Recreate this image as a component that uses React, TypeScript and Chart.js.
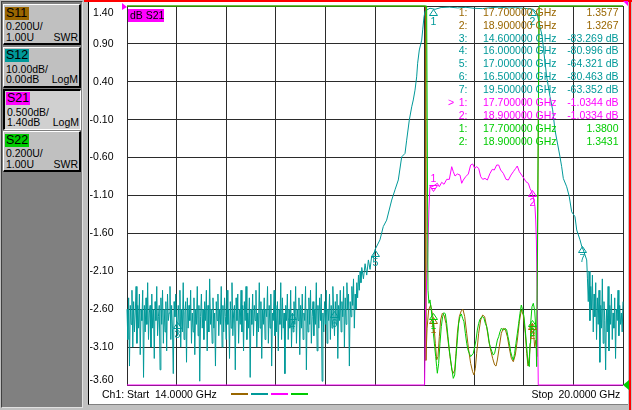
import React, { useEffect, useRef } from "react";
import { Chart, registerables } from "chart.js";

Chart.register(...registerables);

// ---------------- data ----------------
const START_GHZ = 14;
const STOP_GHZ = 20;
const xGridGHz = [14, 14.6, 15.2, 15.8, 16.4, 17, 17.6, 18.2, 18.8, 19.4, 20];
const s21TickLabels = ["1.40", "0.90", "0.40", "-0.10", "-0.60", "-1.10", "-1.60", "-2.10", "-2.60", "-3.10", "-3.60"];

const traceNames = ["S11", "S12", "S21", "S22"];
const traceColors = ["#996600", "#009999", "#ff00ff", "#00cc00"];
const tracePerDiv = ["0.200U/", "10.00dB/", "0.500dB/", "0.200U/"];
const traceRefText = ["1.00U", "0.00dB", "1.40dB", "1.00U"];
const traceFormats = ["SWR", "LogM", "LogM", "SWR"];
const ACTIVE_TRACE = 2;

// scale ranges of the hidden axes (reference at bottom for SWR, at top for S12)
const swrScale = [1.0, 3.0];
const s12ScaleDb = [-100, 0];

// S11 (SWR) – off-scale values are pinned to the top (3.0)
const s11Trace: [number, number][] = [
  [14.0, 3.0], [17.61, 3.0], [17.615, 1.13], [17.63, 1.3], [17.649, 1.396], [17.673, 1.422], [17.697, 1.369],
  [17.714, 1.308], [17.73, 1.22], [17.746, 1.132], [17.762, 1.15], [17.778, 1.255], [17.794, 1.343], [17.814, 1.378],
  [17.835, 1.369], [17.859, 1.325], [17.883, 1.237], [17.907, 1.15], [17.931, 1.079], [17.947, 1.062], [17.964, 1.079],
  [17.98, 1.167], [17.996, 1.273], [18.02, 1.361], [18.044, 1.392], [18.064, 1.399], [18.085, 1.361], [18.109, 1.273],
  [18.133, 1.185], [18.157, 1.114], [18.181, 1.07], [18.197, 1.053], [18.214, 1.088], [18.23, 1.167], [18.254, 1.273],
  [18.278, 1.343], [18.302, 1.369], [18.326, 1.361], [18.351, 1.308], [18.375, 1.237], [18.399, 1.185], [18.423, 1.141],
  [18.447, 1.106], [18.464, 1.1], [18.48, 1.132], [18.504, 1.202], [18.528, 1.273], [18.552, 1.299], [18.576, 1.294],
  [18.601, 1.255], [18.625, 1.194], [18.649, 1.141], [18.673, 1.123], [18.697, 1.158], [18.722, 1.237], [18.746, 1.334],
  [18.77, 1.396], [18.794, 1.369], [18.818, 1.273], [18.835, 1.167], [18.851, 1.1], [18.867, 1.15], [18.883, 1.237],
  [18.899, 1.325], [18.915, 1.29], [18.931, 1.202], [18.947, 1.237], [18.958, 1.15], [18.985, 3.0], [20.0, 3.0],
];

// S22 (SWR)
const s22Trace: [number, number][] = [
  [14.0, 3.0], [17.625, 3.0], [17.641, 1.5], [17.653, 1.431], [17.665, 1.449], [17.681, 1.396], [17.693, 1.343],
  [17.706, 1.273], [17.722, 1.202], [17.734, 1.15], [17.746, 1.097], [17.754, 1.062], [17.77, 1.114], [17.786, 1.22],
  [17.802, 1.308], [17.818, 1.361], [17.835, 1.382], [17.851, 1.375], [17.867, 1.325], [17.883, 1.255], [17.899, 1.185],
  [17.915, 1.132], [17.931, 1.079], [17.947, 1.035], [17.964, 1.053], [17.98, 1.15], [17.996, 1.237], [18.012, 1.325],
  [18.028, 1.361], [18.044, 1.375], [18.06, 1.352], [18.076, 1.334], [18.093, 1.273], [18.109, 1.22], [18.125, 1.185],
  [18.141, 1.167], [18.157, 1.15], [18.173, 1.158], [18.189, 1.167], [18.206, 1.202], [18.222, 1.237], [18.238, 1.29],
  [18.254, 1.325], [18.27, 1.347], [18.286, 1.357], [18.302, 1.361], [18.318, 1.352], [18.335, 1.325], [18.351, 1.308],
  [18.367, 1.273], [18.383, 1.22], [18.399, 1.194], [18.415, 1.176], [18.431, 1.158], [18.447, 1.167], [18.464, 1.202],
  [18.48, 1.237], [18.496, 1.255], [18.512, 1.281], [18.528, 1.299], [18.544, 1.294], [18.56, 1.29], [18.576, 1.299],
  [18.593, 1.29], [18.609, 1.255], [18.625, 1.22], [18.641, 1.176], [18.657, 1.15], [18.673, 1.132], [18.689, 1.167],
  [18.705, 1.22], [18.722, 1.273], [18.738, 1.325], [18.754, 1.378], [18.77, 1.422], [18.786, 1.396], [18.802, 1.361],
  [18.818, 1.29], [18.835, 1.202], [18.851, 1.114], [18.867, 1.097], [18.875, 1.22], [18.883, 1.325], [18.899, 1.413],
  [18.915, 1.431], [18.931, 1.396], [18.947, 1.29], [18.955, 1.097], [18.985, 3.0], [20.0, 3.0],
];

// S21 (dB) – off-scale stopband pinned to the bottom (-3.60)
const s21Trace: [number, number][] = [
  [14.0, -3.6], [17.6, -3.6], [17.612, -2.6], [17.636, -1.95], [17.652, -1.29], [17.664, -0.99], [17.689, -0.984],
  [17.726, -0.961], [17.754, -0.939], [17.778, -0.984], [17.807, -0.926], [17.835, -0.952], [17.867, -0.887],
  [17.899, -0.887], [17.928, -0.72], [17.947, -0.786], [17.968, -0.843], [17.996, -0.816], [18.028, -0.83],
  [18.049, -0.939], [18.068, -0.896], [18.097, -0.852], [18.129, -0.816], [18.157, -0.698], [18.182, -0.684],
  [18.206, -0.742], [18.23, -0.72], [18.254, -0.742], [18.279, -0.852], [18.303, -0.887], [18.331, -0.874],
  [18.359, -0.896], [18.391, -0.808], [18.419, -0.755], [18.443, -0.764], [18.472, -0.698], [18.496, -0.698],
  [18.52, -0.764], [18.552, -0.808], [18.585, -0.887], [18.613, -0.896], [18.645, -0.83], [18.673, -0.786],
  [18.702, -0.742], [18.721, -0.711], [18.746, -0.786], [18.774, -0.83], [18.802, -0.874], [18.826, -0.918],
  [18.855, -0.939], [18.875, -1.006], [18.895, -1.05], [18.907, -1.094], [18.923, -1.159], [18.935, -1.247],
  [18.944, -1.423], [18.952, -1.687], [18.965, -2.6], [18.975, -3.6], [20.0, -3.6],
];

// S12 (dB): sweep points of the noise floor, every 0.01 GHz
const S12_NOISE_STEP_GHZ = 0.01;
const s12NoiseLoStartGHz = 14.0;
const s12NoiseLoDb = [
  -80, -88, -77, -95, -79, -84, -75, -90, -78, -86, -81, -74, -89, -79, -85,
  -76, -92, -80, -83, -75, -98, -79, -86, -77, -84, -73, -88, -81, -79, -90,
  -76, -85, -80, -93, -78, -83, -74, -87, -82, -79, -96, -77, -84, -75, -89,
  -80, -86, -78, -91, -76, -83, -81, -74, -88, -79, -85, -97, -78, -82, -76,
  -83.3, -87, -79, -84, -75, -90, -80, -86, -73, -88, -81, -78, -94, -77, -85,
  -79, -83, -75, -89, -81, -86, -77, -92, -80, -84, -74, -87, -79, -99, -82,
  -76, -85, -80, -88, -78, -83, -75, -91, -79, -86, -72, -84, -80, -89, -77,
  -85, -81, -95, -78, -83, -76, -87, -80, -84, -74, -90, -79, -86, -77, -82,
  -88, -75, -84, -80, -93, -78, -85, -73, -87, -81, -79, -96, -77, -83, -76,
  -89, -80, -84, -75, -86, -79, -91, -78, -83, -74, -88, -81, -85, -77, -98,
  -80, -84, -76, -87, -79, -83, -75, -90, -81, -86, -73, -85, -78, -93, -80,
  -84, -77, -88, -80, -82, -74, -89, -79, -85, -76, -95, -81, -83, -75, -87,
  -79, -86, -78, -91, -80, -84, -73, -88, -77, -85, -81, -97, -79, -83, -76,
  -88, -80, -85, -75, -90, -81, -86, -78, -84, -74, -89, -80, -83, -77, -92,
  -79, -85, -76, -88, -81, -83, -74, -96, -80, -86, -77, -84, -75, -89, -82,
  -78, -87, -80, -84, -73, -91, -79, -85, -77, -83, -76, -99, -81, -86, -78,
  -84, -75, -89, -80, -83, -76, -88, -79, -85, -74, -80.5, -87, -78, -84, -76,
  -93, -79, -83, -75, -86, -78, -82, -74, -90, -77, -84, -73, -80, -76, -95,
  -78, -82, -74, -79, -72, -85, -76, -80, -73, -77, -71, -75, -70, -73, -69,
];
// S12 skirts and passband
const s12Band: [number, number][] = [
  [16.86, -72], [16.88, -68], [16.9, -71], [16.92, -67], [16.94, -69.5], [16.96, -66], [16.98, -66.5],
  [17.0, -64.3], [17.06, -61.7], [17.1, -58.2], [17.141, -56.5], [17.202, -51.2], [17.242, -48.5], [17.282, -45.9],
  [17.323, -39.8], [17.363, -38.9], [17.383, -35.4], [17.415, -30.1], [17.444, -26.6], [17.463, -24.8],
  [17.484, -22.2], [17.504, -18.7], [17.516, -15.1], [17.536, -11.6], [17.565, -9.0], [17.577, -6.3],
  [17.593, -2.8], [17.605, -1.5], [17.625, -1.06], [17.665, -0.6], [17.726, -0.87], [17.8, -0.4], [17.9, -0.3],
  [18.0, -0.5], [18.1, -0.35], [18.2, -0.6], [18.3, -0.7], [18.4, -0.45], [18.5, -0.3], [18.6, -0.5], [18.7, -0.45],
  [18.8, -0.6], [18.916, -0.87], [18.96, -1.85], [18.996, -5.5], [19.02, -7.7], [19.044, -12.4], [19.077, -18.7],
  [19.117, -23.9], [19.149, -27.4], [19.177, -32.7], [19.238, -39.8], [19.258, -42.4], [19.278, -45.5],
  [19.319, -47.7], [19.35, -50.3], [19.379, -54.3], [19.419, -55.6], [19.44, -59.1], [19.48, -61.7],
  [19.5, -63.35], [19.52, -64.4], [19.561, -67.0],
];
const s12NoiseHiStartGHz = 19.57;
const s12NoiseHiDb = [
  -72, -78, -70, -83, -74, -80, -71, -86, -76, -82,
  -73, -88, -77, -84, -75, -94, -79, -85, -72, -89,
  -78, -83, -96, -80, -86, -74, -91, -79, -84, -76,
  -88, -81, -85, -77, -93, -80, -83, -75, -87, -79,
  -84, -81, -86, -78,
];

// marker readouts
const s11MarkerGHz = [17.7, 18.9];
const s11MarkerSwr = [1.3577, 1.3267];
const s12MarkerNo = [3, 4, 5, 6, 7];
const s12MarkerGHz = [14.6, 16.0, 17.0, 16.5, 19.5];
const s12MarkerDb = [-83.269, -80.996, -64.321, -80.463, -63.352];
const s12PassMarkerGHz = [17.7, 18.9];
const s12PassMarkerDb = [-0.8, -0.87];
const s21MarkerGHz = [17.7, 18.9];
const s21MarkerDb = [-1.0344, -1.0334];
const s22MarkerGHz = [17.7, 18.9];
const s22MarkerSwr = [1.38, 1.3431];

// ---------------- drawing ----------------
const FONT = '"Liberation Sans", Arial, Helvetica, sans-serif';
const GRID = "#2b2b2b";

const pairs = (p: [number, number][]) => p.map(([x, y]) => ({ x, y }));

const vnaOverlay = {
  id: "vnaOverlay",
  afterDatasetsDraw(chart: any) {
    const { ctx, scales, chartArea } = chart;
    const xs = scales.x;
    ctx.save();
    ctx.lineWidth = 1;
    ctx.font = `10.5px ${FONT}`;
    ctx.textAlign = "center";
    ctx.textBaseline = "middle";
    const sets = [
      { ghz: s11MarkerGHz, val: s11MarkerSwr, nums: [1, 2], axis: "ySwr", color: traceColors[0], active: -1 },
      { ghz: s12PassMarkerGHz, val: s12PassMarkerDb, nums: [1, 2], axis: "yS12", color: traceColors[1], active: -1 },
      { ghz: s12MarkerGHz, val: s12MarkerDb, nums: s12MarkerNo, axis: "yS12", color: traceColors[1], active: -1 },
      { ghz: s21MarkerGHz, val: s21MarkerDb, nums: [1, 2], axis: "y", color: traceColors[2], active: 0 },
      { ghz: s22MarkerGHz, val: s22MarkerSwr, nums: [1, 2], axis: "ySwr", color: traceColors[3], active: -1 },
    ];
    for (const s of sets) {
      s.ghz.forEach((f, k) => {
        const x = Math.round(xs.getPixelForValue(f)) + 0.5;
        const y = Math.round(scales[s.axis].getPixelForValue(s.val[k])) + 0.5;
        ctx.strokeStyle = s.color;
        ctx.fillStyle = s.color;
        ctx.beginPath();
        if (s.active === k) {
          ctx.moveTo(x, y);
          ctx.lineTo(x - 4, y - 6);
          ctx.lineTo(x + 4, y - 6);
          ctx.closePath();
          ctx.moveTo(x - 2, y - 3);
          ctx.lineTo(x + 2, y - 3);
          ctx.stroke();
          ctx.fillText(String(s.nums[k]), x, y - 12);
        } else {
          ctx.moveTo(x, y);
          ctx.lineTo(x - 4, y + 6);
          ctx.lineTo(x + 4, y + 6);
          ctx.closePath();
          ctx.stroke();
          ctx.fillText(String(s.nums[k]), x, y + 13);
        }
      });
    }

    // reference-position arrows
    ctx.fillStyle = traceColors[2];
    ctx.beginPath();
    ctx.moveTo(chartArea.left - 5, chartArea.top - 3);
    ctx.lineTo(chartArea.left, chartArea.top + 1);
    ctx.lineTo(chartArea.left - 5, chartArea.top + 4);
    ctx.closePath();
    ctx.fill();
    ctx.beginPath();
    ctx.moveTo(chartArea.right, chartArea.top - 5);
    ctx.lineTo(chartArea.right + 5, chartArea.top - 5);
    ctx.lineTo(chartArea.right + 5, chartArea.top);
    ctx.closePath();
    ctx.fill();
    ctx.fillStyle = traceColors[3];
    ctx.beginPath();
    ctx.moveTo(chartArea.right, chartArea.bottom);
    ctx.lineTo(chartArea.right + 6, chartArea.bottom - 5);
    ctx.lineTo(chartArea.right + 6, chartArea.bottom + 5);
    ctx.closePath();
    ctx.fill();
    ctx.restore();
  },
  afterDraw(chart: any) {
    const { ctx, scales, chartArea } = chart;
    ctx.save();
    ctx.font = `10.5px ${FONT}`;
    ctx.fillStyle = "#000";
    ctx.textBaseline = "middle";
    ctx.textAlign = "right";
    // S21 y labels
    s21TickLabels.forEach((t) => {
      let y = scales.y.getPixelForValue(parseFloat(t));
      y = Math.min(Math.max(y, chartArea.top + 7.5), chartArea.bottom - 5);
      ctx.fillText(t, chartArea.left - 13.5, y);
    });

    // active trace tag
    ctx.fillStyle = traceColors[ACTIVE_TRACE];
    ctx.fillRect(chartArea.left + 1, chartArea.top + 3, 36, 13);
    ctx.fillStyle = "#000";
    ctx.textAlign = "left";
    ctx.fillText("dB " + traceNames[ACTIVE_TRACE], chartArea.left + 3, chartArea.top + 10);

    // marker table
    type Row = { pre: string; no: number; f: number; txt: string; color: string };
    const rows: Row[] = [];
    s11MarkerGHz.forEach((f, k) => rows.push({ pre: "", no: k + 1, f, txt: s11MarkerSwr[k].toFixed(4), color: traceColors[0] }));
    s12MarkerGHz.forEach((f, k) => rows.push({ pre: "", no: s12MarkerNo[k], f, txt: s12MarkerDb[k].toFixed(3) + " dB", color: traceColors[1] }));
    s21MarkerGHz.forEach((f, k) => rows.push({ pre: k === 0 ? ">" : "", no: k + 1, f, txt: s21MarkerDb[k].toFixed(4) + " dB", color: traceColors[2] }));
    s22MarkerGHz.forEach((f, k) => rows.push({ pre: "", no: k + 1, f, txt: s22MarkerSwr[k].toFixed(4), color: traceColors[3] }));
    rows.forEach((r, i) => {
      const y = 12.7 + 12.96 * i;
      ctx.fillStyle = r.color;
      ctx.textAlign = "left";
      if (r.pre) ctx.fillText(r.pre, 448, y);
      ctx.fillText(r.f.toFixed(6) + " GHz", 483, y);
      ctx.textAlign = "right";
      ctx.fillText(r.no + ":", 467.5, y);
      ctx.fillText(r.txt, 618.5, y);
    });

    // footer
    ctx.fillStyle = "#000";
    ctx.textAlign = "left";
    ctx.fillText("Ch1: Start", 102, 395);
    ctx.fillText(START_GHZ.toFixed(4) + " GHz", 155, 395);
    ctx.fillText("Stop", 531.5, 395);
    ctx.fillText(STOP_GHZ.toFixed(4) + " GHz", 558.5, 395);
    traceColors.forEach((c, i) => {
      ctx.fillStyle = c;
      ctx.fillRect(231 + i * 20, 393, 17, 2);
    });
    ctx.restore();
  },
};

function TraceButton({ i }: { i: number }) {
  const tops = [4, 46.5, 88.5, 131];
  const sel = i === ACTIVE_TRACE;
  return (
    <div
      style={{
        position: "absolute",
        left: 3,
        top: tops[i],
        width: 78,
        height: 41,
        boxSizing: "border-box",
        background: sel ? "#d0d0d0" : "#c0c0c0",
        borderStyle: "solid",
        borderWidth: sel ? "2px 1px 1px 2px" : "1px 2px 2px 1px",
        borderColor: sel ? "#000 #fff #fff #000" : "#fff #000 #000 #fff",
        fontSize: 10.5,
        color: "#000",
      }}
    >
      <div
        style={{
          position: "absolute",
          left: 1,
          top: 1.5,
          width: 24,
          height: 13,
          background: traceColors[i],
          fontSize: 12.5,
          lineHeight: "13px",
          paddingLeft: 1,
          boxSizing: "border-box",
        }}
      >
        {traceNames[i]}
      </div>
      <div style={{ position: "absolute", left: 2, top: 15, lineHeight: "12px" }}>{tracePerDiv[i]}</div>
      <div style={{ position: "absolute", left: 2, top: 25.5, lineHeight: "12px" }}>{traceRefText[i]}</div>
      <div style={{ position: "absolute", right: 1, top: 25.5, lineHeight: "12px" }}>{traceFormats[i]}</div>
    </div>
  );
}

export default function App() {
  const ref = useRef<HTMLCanvasElement>(null);

  useEffect(() => {
    if (!ref.current) return;
    const s12Data = [
      ...s12NoiseLoDb.map((v, i) => ({ x: s12NoiseLoStartGHz + i * S12_NOISE_STEP_GHZ, y: v })),
      ...pairs(s12Band),
      ...s12NoiseHiDb.map((v, i) => ({ x: s12NoiseHiStartGHz + i * S12_NOISE_STEP_GHZ, y: v })),
    ];
    const yTicks = s21TickLabels.map((t) => parseFloat(t));
    const chart = new Chart(ref.current, {
      type: "line",
      data: {
        datasets: [
          { label: "S11", data: pairs(s11Trace), yAxisID: "ySwr", borderColor: traceColors[0], order: 4 },
          { label: "S12", data: s12Data, yAxisID: "yS12", borderColor: traceColors[1], order: 3 },
          { label: "S21", data: pairs(s21Trace), yAxisID: "y", borderColor: traceColors[2], order: 2 },
          { label: "S22", data: pairs(s22Trace), yAxisID: "ySwr", borderColor: traceColors[3], order: 1 },
        ].map((d) => ({ ...d, borderWidth: 1, pointRadius: 0, tension: 0, fill: false, clip: 2 })) as any,
      },
      options: {
        animation: false,
        responsive: false,
        maintainAspectRatio: false,
        events: [],
        layout: { padding: { left: 127, top: 6, right: 9, bottom: 25 } },
        plugins: { legend: { display: false }, tooltip: { enabled: false } },
        scales: {
          x: {
            type: "linear",
            min: START_GHZ,
            max: STOP_GHZ,
            afterBuildTicks: (s: any) => {
              s.ticks = xGridGHz.map((value) => ({ value }));
            },
            ticks: { display: false },
            grid: { color: GRID, lineWidth: 1, drawTicks: false },
            border: { display: false },
          },
          y: {
            type: "linear",
            min: yTicks[yTicks.length - 1],
            max: yTicks[0],
            afterBuildTicks: (s: any) => {
              s.ticks = yTicks.map((value) => ({ value }));
            },
            ticks: { display: false },
            grid: { color: GRID, lineWidth: 1, drawTicks: false },
            border: { display: false },
          },
          ySwr: { type: "linear", display: false, min: swrScale[0], max: swrScale[1] },
          yS12: { type: "linear", display: false, min: s12ScaleDb[0], max: s12ScaleDb[1] },
        },
      } as any,
      plugins: [vnaOverlay],
    });
    return () => chart.destroy();
  }, []);

  return (
    <div
      style={{
        position: "fixed",
        left: 0,
        top: 0,
        width: 632,
        height: 410,
        background: "#c0c0c0",
        overflow: "hidden",
        fontFamily: FONT,
      }}
    >
      <div
        style={{
          position: "absolute",
          left: 1,
          top: 1,
          width: 82,
          height: 407,
          background: "#808080",
          boxSizing: "border-box",
          borderStyle: "solid",
          borderWidth: 1,
          borderColor: "#404040 #e0e0e0 #e0e0e0 #404040",
        }}
      />
      {traceNames.map((n, i) => (
        <TraceButton key={n} i={i} />
      ))}
      <div
        style={{
          position: "absolute",
          left: 88,
          top: 2,
          width: 540,
          height: 403,
          background: "#fff",
          boxSizing: "border-box",
          borderLeft: "1px solid #000",
          borderBottom: "1px solid #808080",
        }}
      />
      <div style={{ position: "absolute", left: 84, top: 0, width: 548, height: 2, background: "#ff0000" }} />
      <div style={{ position: "absolute", left: 629, top: 0, width: 2, height: 410, background: "#ff0000" }} />
      <canvas ref={ref} width={632} height={410} style={{ position: "absolute", left: 0, top: 0 }} />
    </div>
  );
}
